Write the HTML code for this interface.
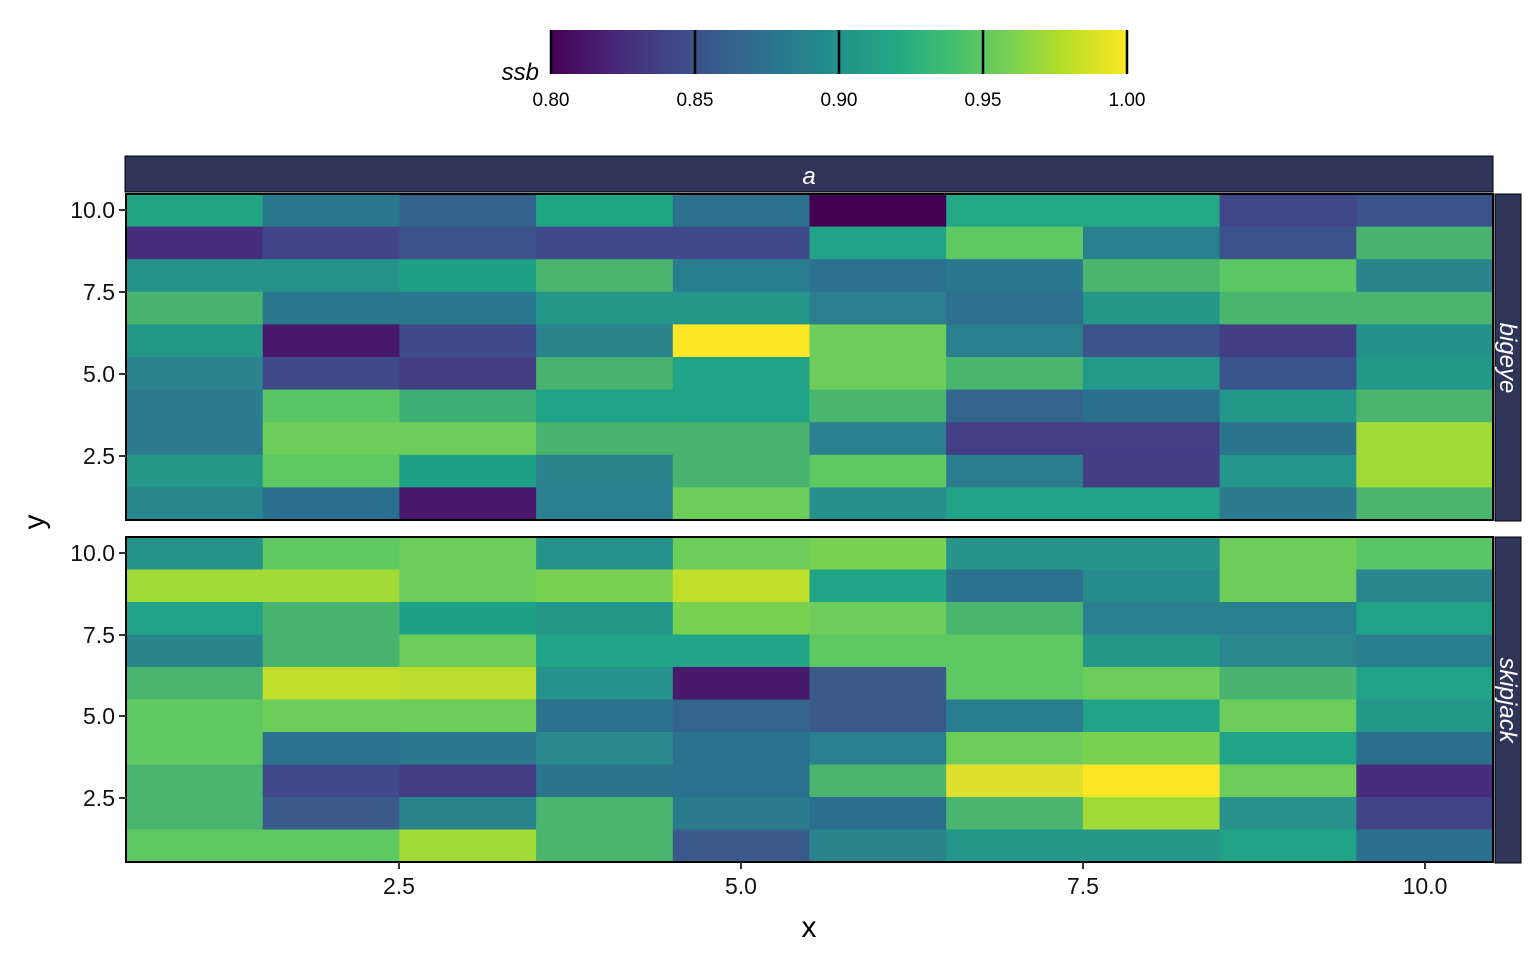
<!DOCTYPE html>
<html><head><meta charset="utf-8">
<style>
html,body{margin:0;padding:0;background:#fff;}
svg{display:block;font-family:"Liberation Sans",Arial,sans-serif;}
</style></head><body>
<svg width="1536" height="960" viewBox="0 0 1536 960" xmlns="http://www.w3.org/2000/svg">
<defs>
<linearGradient id="vir" x1="0" x2="1" y1="0" y2="0">
<stop offset="0" stop-color="#440154"/><stop offset="0.1" stop-color="#482475"/>
<stop offset="0.2" stop-color="#414487"/><stop offset="0.3" stop-color="#355f8d"/>
<stop offset="0.4" stop-color="#2a788e"/><stop offset="0.5" stop-color="#21918c"/>
<stop offset="0.6" stop-color="#22a884"/><stop offset="0.7" stop-color="#44bf70"/>
<stop offset="0.8" stop-color="#7ad151"/><stop offset="0.9" stop-color="#bddf26"/>
<stop offset="1" stop-color="#fde725"/>
</linearGradient>
</defs>
<rect x="551" y="30" width="576" height="44" fill="url(#vir)"/>
<g stroke="#000" stroke-width="2.5">
<line x1="551" y1="30" x2="551" y2="74"/>
<line x1="695" y1="30" x2="695" y2="74"/>
<line x1="839" y1="30" x2="839" y2="74"/>
<line x1="983" y1="30" x2="983" y2="74"/>
<line x1="1127" y1="30" x2="1127" y2="74"/>
</g>
<text x="539" y="80" font-size="24" font-style="italic" text-anchor="end">ssb</text>
<g font-size="19" text-anchor="middle">
<text x="551" y="106">0.80</text><text x="695" y="106">0.85</text><text x="839" y="106">0.90</text><text x="983" y="106">0.95</text><text x="1127" y="106">1.00</text>
</g>
<rect x="125" y="156" width="1368" height="36" fill="#2e3559" stroke="#000" stroke-width="1"/>
<text x="809" y="184" font-size="24" font-style="italic" fill="#fff" text-anchor="middle">a</text>
<rect x="1495" y="194" width="26" height="327" fill="#2e3559" stroke="#000" stroke-width="1"/>
<rect x="1495" y="537" width="26" height="326" fill="#2e3559" stroke="#000" stroke-width="1"/>
<text transform="translate(1500,358) rotate(90)" font-size="24" font-style="italic" fill="#fff" text-anchor="middle">bigeye</text>
<text transform="translate(1500,700) rotate(90)" font-size="24" font-style="italic" fill="#fff" text-anchor="middle">skipjack</text>
<g id="cells"></g>
<rect x="126" y="194" width="1367" height="326" fill="none" stroke="#000" stroke-width="2"/>
<rect x="126" y="537" width="1367" height="325" fill="none" stroke="#000" stroke-width="2"/>
<g stroke="#333" stroke-width="2">
<line x1="119" y1="210" x2="126" y2="210"/><line x1="119" y1="292" x2="126" y2="292"/><line x1="119" y1="374" x2="126" y2="374"/><line x1="119" y1="456" x2="126" y2="456"/>
<line x1="119" y1="553" x2="126" y2="553"/><line x1="119" y1="635" x2="126" y2="635"/><line x1="119" y1="716" x2="126" y2="716"/><line x1="119" y1="798" x2="126" y2="798"/>
<line x1="399" y1="862" x2="399" y2="869"/><line x1="741" y1="862" x2="741" y2="869"/><line x1="1083" y1="862" x2="1083" y2="869"/><line x1="1425" y1="862" x2="1425" y2="869"/>
</g>
<g font-size="23" text-anchor="end" fill="#111">
<text x="115" y="218">10.0</text><text x="115" y="300">7.5</text><text x="115" y="382">5.0</text><text x="115" y="464">2.5</text>
<text x="115" y="561">10.0</text><text x="115" y="643">7.5</text><text x="115" y="724">5.0</text><text x="115" y="806">2.5</text>
</g>
<g font-size="23" text-anchor="middle" fill="#111">
<text x="399" y="894">2.5</text><text x="741" y="894">5.0</text><text x="1083" y="894">7.5</text><text x="1425" y="894">10.0</text>
</g>
<text x="809" y="937" font-size="30" text-anchor="middle">x</text>
<text transform="translate(44,522) rotate(-90)" font-size="30" text-anchor="middle">y</text>
</svg>
<script>
(function(){
var dTop=[
["#21a585","#2a788e","#33638d","#21a685","#2c728e","#440154","#22a884","#22a884","#404688","#3b528b"],
["#472d7b","#414487","#3b528b","#3e4a89","#3e4a89","#20a386","#5ec962","#27808e","#3b528b","#48b46f"],
["#26938b","#26938b","#1fa187","#4ab56f","#2a7d8e","#2c728e","#2a788e","#4ab56f","#5cc863","#2a848e"],
["#48b46f","#2a788e","#2a788e","#24978a","#24978a","#2c7e8e","#2e6f8e","#24978a","#4ab56f","#4ab56f"],
["#22978a","#48186a","#3e4a89","#2a848e","#fde725","#6ccd5a","#2a7f8e","#3b528b","#433d84","#22928b"],
["#2a838e","#3e4a89","#433d84","#48b46f","#20a386","#6ccd5a","#4ab56f","#23998a","#3b538b","#23988a"],
["#2b7a8e","#58c665","#3fae75","#20a386","#20a386","#4ab56f","#33648d","#2b6f8e","#23978a","#4ab56f"],
["#2b7a8e","#6ccd5a","#6ccd5a","#48b46f","#48b46f","#2b7f8e","#443e85","#443e85","#2b748e","#a2da37"],
["#25978a","#5ec962","#1fa187","#2a848e","#48b46f","#5ec962","#2b7c8e","#433d84","#24968b","#a2da37"],
["#29868e","#2b6f8e","#48186a","#2b7f8e","#6ccd5a","#25908c","#20a386","#20a386","#2b7a8e","#4ab56f"]];
var dBot=[
["#26938b","#5ec962","#6ccd5a","#25928b","#6ccd5a","#7ad151","#26948b","#26948b","#6ccd5a","#58c665"],
["#a2da37","#a2da37","#6ccd5a","#7ad151","#c0de2a","#20a386","#2b728e","#278b8d","#6ccd5a","#2a868e"],
["#20a386","#48b46f","#1fa187","#24978a","#7ad151","#6ccd5a","#4ab56f","#2a808e","#2a808e","#20a386"],
["#2a848e","#48b46f","#6ccd5a","#20a386","#20a386","#5ec962","#5ec962","#25978a","#2a878e","#2a7d8e"],
["#4ab56f","#c0de2a","#bcdd2f","#25928b","#48186a","#3b5a8c","#5ec962","#6ccd5a","#48b46f","#20a386"],
["#5ec962","#6ccd5a","#6ccd5a","#2b728e","#33648d","#3b5a8c","#2a7d8e","#20a386","#6ccd5a","#23978a"],
["#5ec962","#2b728e","#2b778e","#2a888e","#2b728e","#2a7f8e","#6ccd5a","#7ad151","#20a386","#2b6f8e"],
["#4ab56f","#3e4a89","#433d84","#2b748e","#2b728e","#4ab56f","#dfe02d","#fde725","#6ccd5a","#472d7b"],
["#4ab56f","#3b5a8c","#2a848e","#4ab56f","#2b7a8e","#2b6f8e","#4ab56f","#a2da37","#26928b","#414487"],
["#5ec962","#5ec962","#a2da37","#4ab56f","#3b5a8c","#2a848e","#25978a","#25978a","#20a386","#2b6f8e"]];
var g=document.getElementById('cells'),ns="http://www.w3.org/2000/svg";
function draw(d,y0,h){var cw=1367/10,rh=h/10;
for(var r=0;r<10;r++)for(var c=0;c<10;c++){var e=document.createElementNS(ns,'rect');
var x=126+c*cw,y=y0+r*rh;e.setAttribute('x',x.toFixed(2));e.setAttribute('y',y.toFixed(2));
e.setAttribute('width',(cw+0.6).toFixed(2));e.setAttribute('height',(rh+0.6).toFixed(2));e.setAttribute('fill',d[r][c]);g.appendChild(e);}}
draw(dTop,194,326);draw(dBot,537,325);
})();
</script>
</body></html>
